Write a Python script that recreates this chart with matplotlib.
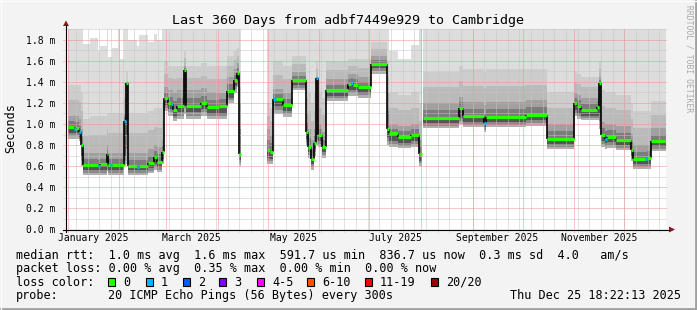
import numpy as np
import matplotlib.pyplot as plt
from matplotlib.patches import Rectangle, Polygon

plt.rcParams['font.family'] = ['DejaVu Sans Mono']

# ---- data (x = days since 2025-01-01) ----
view_start = -1.234     # Dec 30 2024 18:22
view_end = 358.766      # Dec 25 2025 18:22

seg_edges = [0, 3.6, 4.8, 6.6, 7.8, 9.0, 13.2, 18.0, 19.2, 23.4, 24.0, 25.2, 26.4, 30.0, 31.2,
             33.6, 34.8, 36.0, 41.4, 42.6, 48.0, 51.6, 53.4, 56.4, 57.6, 60.0, 61.8, 63.0, 65.4,
             69.6, 70.8, 79.8, 83.4, 90.6, 95.4, 99.6, 101.4, 102.6, 103.8, 119.4, 121.2, 123.0,
             124.8, 129.0, 134.4, 142.8, 144.0, 145.8, 147.6, 148.8, 150.0, 152.4, 154.8, 168.0,
             169.8, 171.0, 174.0, 181.8, 191.4, 192.6, 198.0, 205.8, 210.6, 212.4, 213.0, 234.6,
             237.0, 249.6, 250.8, 274.8, 287.4, 303.6, 305.4, 307.8, 317.4, 318.6, 319.8, 322.2,
             323.4, 328.8, 337.8, 339.0, 346.2, 347.4, 349.8, 359.4]
nan = np.nan
median = [.97, .95, .96, .92, .80, .61, .61, .60, .62, .71, .61, .61, .61, .61, .61,
          1.03, 1.39, .60, .59, .60, .63, .69, .64, .73, 1.25, 1.20, 1.19, 1.13, 1.17,
          1.51, 1.17, 1.20, 1.16, 1.17, 1.31, 1.42, 1.49, .71, nan, .75, .73, 1.24,
          1.24, 1.18, 1.42, .92, .78, .67, .82, 1.44, .90, .78, 1.32, 1.38,
          1.39, 1.37, 1.35, 1.57, .95, .91, .88, .90, .71, nan, 1.06, 1.15,
          1.08, 1.01, 1.07, 1.09, .86, 1.20, 1.17, 1.13, 1.16, 1.39, .90, .86,
          .88, .85, .75, .67, .67, .68, .84]
loss = [0, 1, 0, 1, 0, 0, 0, 1, 0, 0, 0, 1, 0, 0, 0,
        1, 0, 0, 1, 0, 0, 0, 0, 0, 0, 0, 1, 0, 0,
        0, 0, 0, 0, 0, 0, 0, 0, 0, 0, 0, 0, 1,
        0, 0, 0, 0, 0, 0, 0, 1, 0, 0, 0, 0,
        1, 0, 0, 0, 0, 0, 0, 0, 0, 0, 0, 0,
        0, 1, 0, 0, 0, 0, 0, 0, 0, 0, 0, 1,
        0, 0, 0, 0, 1, 0, 0]
smoke_lo = [.86, .86, .86, .84, .60, .51, .51, .51, .51, .55, .51, .51, .51, .51, .51,
            .60, .62, .51, .51, .51, .53, .56, .54, .62, 1.12, 1.08, 1.08, 1.03, 1.05,
            1.10, 1.05, 1.08, 1.05, 1.05, 1.20, 1.30, 1.35, .60, nan, .62, .62, 1.10,
            1.10, 1.07, 1.32, .80, .68, .56, .70, .80, .78, .68, 1.22, 1.27,
            1.27, 1.27, 1.25, 1.48, .80, .78, .77, .78, .60, nan, .96, 1.00,
            .97, .92, .97, .98, .76, 1.08, 1.05, 1.04, 1.04, .95, .78, .76,
            .77, .75, .65, .57, .57, .57, .74]
smoke_dlo = [.91, .91, .91, .88, .70, .56, .56, .56, .56, .60, .56, .56, .56, .56, .56,
             .70, .90, .56, .56, .56, .58, .62, .59, .67, 1.18, 1.14, 1.14, 1.08, 1.11,
             1.20, 1.11, 1.14, 1.10, 1.10, 1.25, 1.36, 1.42, .66, nan, .68, .67, 1.17,
             1.17, 1.12, 1.37, .86, .73, .62, .76, .90, .84, .73, 1.27, 1.32,
             1.32, 1.32, 1.30, 1.53, .88, .84, .82, .84, .65, nan, 1.01, 1.06,
             1.02, .97, 1.02, 1.04, .81, 1.13, 1.10, 1.08, 1.08, 1.10, .84, .82,
             .83, .80, .70, .62, .62, .62, .79]
smoke_dk = [1.08, 1.08, 1.08, 1.05, .95, .72, .72, .72, .72, .80, .72, .72, .72, .72, .72,
            1.10, 1.30, .72, .72, .72, .76, .80, .78, .85, 1.35, 1.32, 1.32, 1.30, 1.32,
            1.55, 1.32, 1.34, 1.30, 1.30, 1.45, 1.52, 1.58, 1.20, nan, .95, .90, 1.33,
            1.33, 1.30, 1.50, 1.10, .95, .85, .95, 1.45, 1.00, .92, 1.43, 1.48,
            1.48, 1.48, 1.45, 1.65, 1.30, 1.00, .98, 1.00, .85, nan, 1.20, 1.26,
            1.21, 1.18, 1.21, 1.23, 1.00, 1.30, 1.28, 1.25, 1.25, 1.45, 1.02, 1.00,
            1.00, .98, .90, .80, .80, .80, .96]
smoke_mid = [1.37, 1.37, 1.37, 1.37, 1.30, 1.05, 1.08, 1.08, 1.08, 1.10, 1.10, 1.10, 1.10, 1.10, 1.10,
             1.40, 1.50, 1.10, 1.10, 1.10, 1.12, 1.15, 1.15, 1.20, 1.60, 1.55, 1.55, 1.55, 1.55,
             1.70, 1.55, 1.58, 1.55, 1.55, 1.65, 1.70, 1.72, 1.50, nan, 1.20, 1.15, 1.60,
             1.60, 1.55, 1.65, 1.40, 1.30, 1.20, 1.30, 1.60, 1.30, 1.25, 1.60, 1.62,
             1.62, 1.62, 1.62, 1.78, 1.60, 1.30, 1.28, 1.30, 1.20, nan, 1.50, 1.55,
             1.52, 1.50, 1.52, 1.52, 1.30, 1.50, 1.48, 1.45, 1.45, 1.60, 1.32, 1.30,
             1.30, 1.28, 1.20, 1.12, 1.12, 1.12, 1.22]
smoke_top = [2, 2, 2, 2, 2, 1.76, 1.82, 1.70, 1.74, 2, 1.64, 1.64, 1.72, 2, 1.62,
             2, 2, 1.80, 1.74, 1.85, 1.78, 1.86, 1.80, 2, 2, 2, 2, 2, 2,
             2, 2, 2, 2, 2, 2, 2, 2, 2, nan, 2, 2, 2,
             2, 2, 2, 2, 2, 2, 2, 2, 2, 2, 2, 2,
             2, 2, 2, 2, 2, 1.70, 1.62, 1.75, 2, nan, 2, 2,
             2, 2, 2, 2, 2, 2, 2, 2, 2, 2, 2, 2,
             2, 2, 2, 2, 2, 2, 2]

loss_labels = ["0", "1", "2", "3", "4-5", "6-10", "11-19", "20/20"]
loss_colors = ["#26ff00", "#00b8ff", "#0059ff", "#7e00ff", "#ff00ff", "#ff5500", "#ff0000", "#a10000"]

month_labels = ["January 2025", "March 2025", "May 2025", "July 2025", "September 2025", "November 2025"]
y_labels = ["0.0 m", "0.2 m", "0.4 m", "0.6 m", "0.8 m", "1.0 m", "1.2 m", "1.4 m", "1.6 m", "1.8 m"]

title = "Last 360 Days from adbf7449e929 to Cambridge"
line_rtt = "median rtt:  1.0 ms avg  1.6 ms max  591.7 us min  836.7 us now  0.3 ms sd  4.0   am/s"
line_loss = "packet loss: 0.00 % avg  0.35 % max  0.00 % min  0.00 % now"
probe_text = "20 ICMP Echo Pings (56 Bytes) every 300s"
stamp = "Thu Dec 25 18:22:13 2025"

# ---- figure ----
W, H = 697, 310
fig = plt.figure(figsize=(W / 100, H / 100), dpi=100)
fig.patch.set_facecolor('#f3f3f3')
ax = fig.add_axes([65.5 / W, 81 / H, 600 / W, 200 / H])
ytop = 200 / 105
ax.set_xlim(view_start, view_end)
ax.set_ylim(0, ytop)
ax.set_facecolor('white')
for s in ax.spines.values():
    s.set_visible(False)

edges = np.array(seg_edges)
med = np.array(median)
ok = ~np.isnan(med)
x0 = edges[:-1][ok]
x1 = edges[1:][ok]
wd = x1 - x0
m = med[ok]
lo = np.array(smoke_lo)[ok]
dlo = np.array(smoke_dlo)[ok]
dk = np.array(smoke_dk)[ok]
mid = np.array(smoke_mid)[ok]
top = np.minimum(np.array(smoke_top)[ok], ytop)


def band(b, t, col):
    ax.bar(x0, t - b, bottom=b, width=wd, align='edge', color=col,
           linewidth=0, antialiased=False, zorder=1)


# smoke: light outer pings, darker towards the median
band(mid, top, '#dddddd')
band((dk + mid) / 2, mid, '#cdcdcd')
band(dk, (dk + mid) / 2, '#bababa')
band((m + dk) / 2, dk, '#a0a0a0')
band(m, (m + dk) / 2, '#7c7c7c')
band(lo, (lo + dlo) / 2, '#b0b0b0')
band((lo + dlo) / 2, dlo, '#8a8a8a')
band(dlo, m, '#555555')

# grid (drawn over the smoke, as rrdtool does)
base = np.datetime64('2025-01-01')
months = (np.arange('2025-01', '2026-01', dtype='datetime64[M]').astype('datetime64[D]') - base).astype(float)
mondays = (np.arange(np.datetime64('2025-01-06'), np.datetime64('2025-12-26'), 7) - base).astype(float)
dots = (0, (1, 1))
ax.vlines(mondays, -0.025, ytop, colors='#c4c4c4', linestyles=dots, lw=0.72, clip_on=False, zorder=2)
ax.hlines(np.arange(0.1, 1.91, 0.2), view_start - 1.8, view_end, colors='#c4c4c4', linestyles=dots, lw=0.72, clip_on=False, zorder=2)
ax.vlines(months, -0.025, ytop, colors='#f09090', linestyles=dots, lw=0.72, clip_on=False, zorder=2)
ax.hlines(np.arange(0.2, 1.81, 0.2), view_start - 1.8, view_end, colors='#f09090', linestyles=dots, lw=0.72, clip_on=False, zorder=2)

# median: black jumps, loss-coloured levels
ax.vlines(edges[1:-1], med[:-1], med[1:], colors='black', lw=1.2, zorder=3)
hl = ax.hlines(m, x0, x1, colors=[loss_colors[k] for k in np.array(loss)[ok]], lw=2.3, zorder=4)
hl.set_capstyle('butt')

label_pos = [(months[i] + months[i + 1]) / 2 for i in range(0, 12, 2)]
ax.set_xticks(label_pos, month_labels)
ax.set_yticks(np.arange(0, 1.81, 0.2), y_labels)
ax.tick_params(axis='x', length=0, pad=3, labelsize=7)
ax.tick_params(axis='y', length=0, pad=7, labelsize=7)

# ---- decorations in pixel space ----
deco = fig.add_axes([0, 0, 1, 1], facecolor='none')
deco.set_xlim(0, W)
deco.set_ylim(H, 0)
deco.axis('off')

deco.plot([66, 66], [231.5, 25], color='black', lw=0.8)
deco.plot([63, 669], [229.5, 229.5], color='black', lw=0.8)
deco.add_patch(Polygon([[66, 20.5], [63, 26], [69, 26]], color='#8b1a1a', lw=0))
deco.add_patch(Polygon([[675, 229.5], [669, 226.5], [669, 232.5]], color='#8b1a1a', lw=0))

deco.plot([0, W], [H - 1, H - 1], color='#a0a0a0', lw=2)
deco.plot([W - 1, W - 1], [0, H], color='#a0a0a0', lw=2)
deco.plot([0, W], [0.5, 0.5], color='#fcfcfc', lw=1)
deco.plot([0.5, 0.5], [0, H], color='#fcfcfc', lw=1)

deco.text(348, 24, title, ha='center', va='baseline', fontsize=9.6)
deco.text(11, 128, "Seconds", ha='center', va='center', rotation=90, fontsize=8.5)
deco.text(689, 5, "RRDTOOL / TOBI OETIKER", ha='center', va='top', rotation=270, fontsize=5.8, color='#a8a8a8')

fs = 8.5
deco.text(16, 258.5, line_rtt, va='baseline', fontsize=fs)
deco.text(16, 272, line_loss, va='baseline', fontsize=fs)
deco.text(16, 285.5, "loss color:", va='baseline', fontsize=fs)
for lab, col, x in zip(loss_labels, loss_colors, [108, 146, 183, 219, 257, 307, 365, 431]):
    deco.add_patch(Rectangle((x, 278), 7, 8, facecolor=col, edgecolor='black', lw=0.8))
    deco.text(x + 15, 285.5, lab, va='baseline', fontsize=fs)
deco.text(16, 299, "probe:", va='baseline', fontsize=fs)
deco.text(108, 299, probe_text, va='baseline', fontsize=fs)
deco.text(681, 299, stamp, ha='right', va='baseline', fontsize=fs)

fig.savefig('out.png', dpi=100)
